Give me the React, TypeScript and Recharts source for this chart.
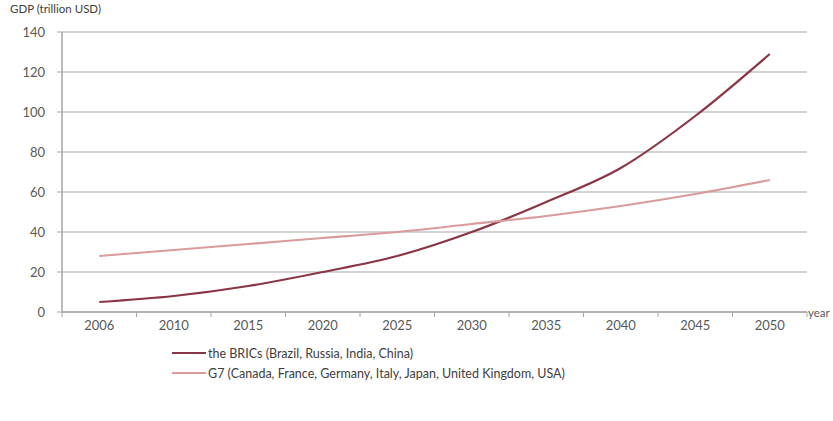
import { LineChart, Line, XAxis, YAxis, CartesianGrid } from "recharts";

const YEARS = ["2006", "2010", "2015", "2020", "2025", "2030", "2035", "2040", "2045", "2050"];
const BRICS = [5, 8, 13, 20, 28, 40, 55, 72, 98, 129];
const G7 = [28, 31, 34, 37, 40, 44, 48, 53, 59, 66];
const Y_TICKS = [0, 20, 40, 60, 80, 100, 120, 140];

const SERIES = [
  { key: "brics", name: "the BRICs (Brazil, Russia, India, China)", color: "#8a3545" },
  { key: "g7", name: "G7 (Canada, France, Germany, Italy, Japan, United Kingdom, USA)", color: "#d99b9c" },
];

// x is the band centre; ticks sit on the band edges like the original
const data = YEARS.map((year, i) => ({ x: i + 0.5, year, brics: BRICS[i], g7: G7[i] }));
const X_TICKS = YEARS.map((_, i) => i).concat(YEARS.length);

const FONT = "Lato, 'Open Sans', sans-serif";

// eslint-disable-next-line @typescript-eslint/no-explicit-any
const YearTick = ({ x, y, index }: any) => {
  const label = YEARS[index];
  const half = 745 / YEARS.length / 2;
  return (
    <g>
      <line x1={x} y1={y - 8} x2={x} y2={y - 3} stroke="#a6a6a6" />
      {label && (
        <text x={x + half} y={y + 10} textAnchor="middle" fill="#595959" fontSize={13} fontFamily={FONT}>
          {label}
        </text>
      )}
    </g>
  );
};

export default function App() {
  return (
    <div style={{ position: "absolute", left: 0, top: 0, width: 833, height: 421, background: "#fff" }}>
      <div
        style={{
          position: "absolute",
          left: 10,
          top: 2,
          fontFamily: FONT,
          fontSize: 11.5,
          color: "#404040",
        }}
      >
        GDP (trillion USD)
      </div>
      <LineChart width={833} height={421} data={data} margin={{ top: 32, right: 26, left: 0, bottom: 79 }}>
        <CartesianGrid horizontal vertical={false} stroke="#c4c4c4" strokeWidth={1.5} />
        <XAxis
          dataKey="x"
          type="number"
          domain={[0, YEARS.length]}
          ticks={X_TICKS}
          interval={0}
          tick={<YearTick />}
          tickLine={false}
          axisLine={{ stroke: "#a6a6a6", strokeWidth: 1.5 }}
          height={30}
        />
        <YAxis
          domain={[0, 140]}
          ticks={Y_TICKS}
          width={62}
          tickSize={5}
          tickMargin={12}
          tickLine={{ stroke: "#a6a6a6" }}
          axisLine={{ stroke: "#a6a6a6", strokeWidth: 1.5 }}
          tick={{ fill: "#595959", fontSize: 13, fontFamily: FONT }}
        />
        {SERIES.map((s) => (
          <Line
            key={s.key}
            type="monotone"
            dataKey={s.key}
            name={s.name}
            stroke={s.color}
            strokeWidth={2.2}
            dot={false}
            isAnimationActive={false}
          />
        ))}
      </LineChart>
      <div
        style={{
          position: "absolute",
          left: 808,
          top: 306,
          fontFamily: FONT,
          fontSize: 11.5,
          color: "#595959",
          whiteSpace: "nowrap",
        }}
      >
        year
      </div>
      <div style={{ position: "absolute", left: 172, top: 343, fontFamily: FONT, fontSize: 12.5, color: "#404040" }}>
        {SERIES.map((s) => (
          <div key={s.key} style={{ display: "flex", alignItems: "center", height: 20, whiteSpace: "nowrap" }}>
            <div style={{ width: 34, height: 2, background: s.color, marginRight: 2 }} />
            <span>{s.name}</span>
          </div>
        ))}
      </div>
    </div>
  );
}
